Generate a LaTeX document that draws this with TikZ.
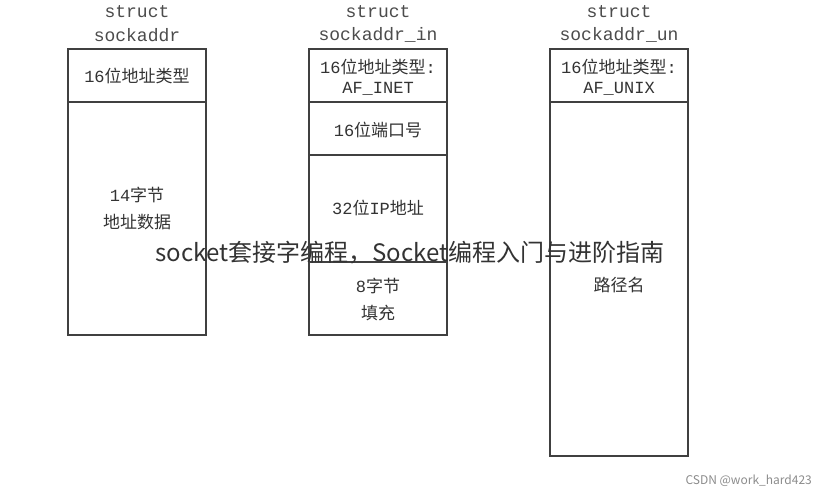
\documentclass[tikz,border=0pt]{standalone}
\usepackage{fontspec}
\setmainfont{Liberation Mono}
\newfontfamily\cjk{Noto Sans CJK SC}
\begin{document}
\begin{tikzpicture}[x=1pt,y=-1pt,
  box/.style={draw=black!75,line width=1.2pt},
  lbl/.style={font=\fontsize{17}{20}\selectfont,text=black!80,align=center,inner sep=0pt},
  ttl/.style={font=\fontsize{18}{21}\selectfont,text=black!70,align=center,inner sep=0pt}]
\useasboundingbox[fill=white] (0,0) rectangle (818,490);
% boxes
\draw[box] (68,49) rectangle (206,335);
\draw[box] (68,102) -- (206,102);
\draw[box] (309,49) rectangle (447,335);
\draw[box] (309,102) -- (447,102);
\draw[box] (309,155) -- (447,155);
\draw[box] (309,262) -- (447,262);
\draw[box] (550,49) rectangle (688,456);
\draw[box] (550,102) -- (688,102);
% titles
\node[ttl] (t1) at (137,12) {struct};
\node[ttl] (t1b) at (137,35) {sockaddr};
\node[ttl] (t2) at (378,12) {struct};
\node[ttl] (t2b) at (378,35) {sockaddr\_in};
\node[ttl] (t3) at (619,12) {struct};
\node[ttl] (t3b) at (619,35) {sockaddr\_un};
% box 1
\node[lbl] (a1) at (137,76) {16{\cjk 位地址类型}};
\node[lbl] (a2) at (137,195) {14{\cjk 字节}};
\node[lbl] (a3) at (137,222) {\cjk 地址数据};
% box 2
\node[lbl] (b1) at (378,67) {16{\cjk 位地址类型}:};
\node[lbl] (b2) at (378,89) {AF\_INET};
\node[lbl] (b3) at (378,130) {16{\cjk 位端口号}};
\node[lbl] (b4) at (378,208) {32{\cjk 位}IP{\cjk 地址}};
\node[lbl] (b5) at (378,286) {8{\cjk 字节}};
\node[lbl] (b6) at (378,313) {\cjk 填充};
% box 3
\node[lbl] (c1) at (619,67) {16{\cjk 位地址类型}:};
\node[lbl] (c2) at (619,89) {AF\_UNIX};
\node[lbl] (c3) at (619,285) {\cjk 路径名};
% overlay
\node[font=\cjk\fontsize{24}{28}\selectfont,text=black!80,inner sep=0pt] (ov) at (410,253) {socket套接字编程，Socket编程入门与进阶指南};
\node[font=\cjk\fontsize{12}{14}\selectfont,text=black!45,anchor=east,inner sep=0pt] (wm) at (812,481) {CSDN @work\_hard423};
\end{tikzpicture}
\end{document}
